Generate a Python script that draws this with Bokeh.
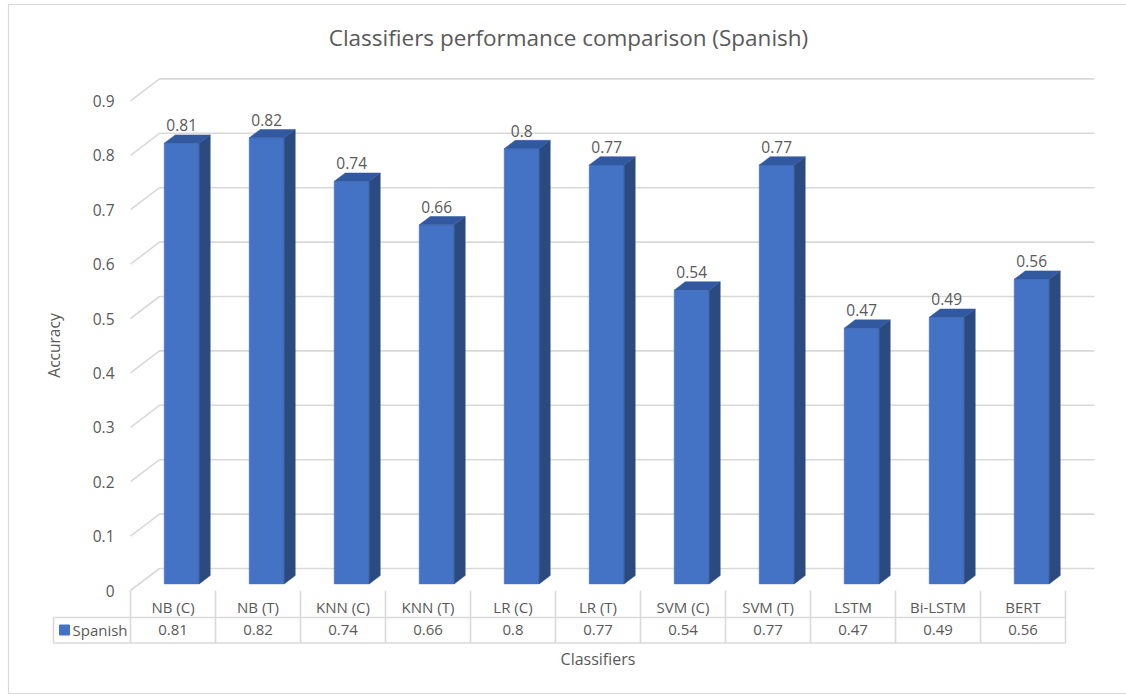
import numpy as np
from bokeh.plotting import figure
from bokeh.models import Range1d
from bokeh.core.properties import value
from bokeh.embed import file_html
from bokeh.resources import INLINE

# ---------------- data ----------------
categories = ["NB (C)", "NB (T)", "KNN (C)", "KNN (T)", "LR (C)", "LR (T)",
              "SVM (C)", "SVM (T)", "LSTM", "Bi-LSTM", "BERT"]
accuracy = [0.81, 0.82, 0.74, 0.66, 0.80, 0.77, 0.54, 0.77, 0.47, 0.49, 0.56]
y_ticks = [0.0, 0.1, 0.2, 0.3, 0.4, 0.5, 0.6, 0.7, 0.8, 0.9]
y_tick_labels = ["0", "0.1", "0.2", "0.3", "0.4", "0.5", "0.6", "0.7", "0.8", "0.9"]
series_name = "Spanish"
title_text = "Classifiers performance comparison (Spanish)"
x_title = "Classifiers"
y_title = "Accuracy"

# ---------------- style ----------------
FONT = "Open Sans"
TXT = "#595959"
GRID = "#D9D9D9"
FRONT = "#4472C4"
SIDE = "#2B4A80"
TOP = "#3259A0"

PX_X = 85.0   # pixels per category
PX_Y = 544.0  # pixels per accuracy unit


def dx(px):
    return px / PX_X


def dy(px):
    return px / PX_Y


WALL_DX, WALL_DY = dx(29), dy(22)
D_FRONT, D_BACK = 0.30, 0.68
a, b = D_FRONT * WALL_DX, D_FRONT * WALL_DY
sdx, sdy = (D_BACK - D_FRONT) * WALL_DX, (D_BACK - D_FRONT) * WALL_DY
bw = dx(35)

n = len(categories)
xs = np.arange(n, dtype=float)
vals = np.array(accuracy, dtype=float)

W, H = 1126, 695
OX, OY = 130, 590   # pixel of the chart origin (left front corner of the floor)
p = figure(width=W, height=H, output_backend="svg", toolbar_location=None,
           x_axis_location=None, y_axis_location=None,
           x_range=Range1d(-0.5 - dx(OX), -0.5 + dx(W - OX)),
           y_range=Range1d(-dy(H - OY), dy(OY)),
           min_border=0, outline_line_color=None, background_fill_color="white",
           border_fill_color="white")
p.grid.visible = False

# chart border (left, top, bottom; right edge is outside the picture)
bl, bt, bb = -0.5 - dx(OX - 8), dy(OY - 4), -dy(693 - OY)
p.multi_line(xs=[[13, bl, bl, 13]], ys=[[bt, bt, bb, bb]],
             line_color=GRID, line_width=1.2)

# back wall gridlines + left floor/wall diagonal
g_xs = [[-0.5, -0.5 + WALL_DX, n - 0.5 + WALL_DX] for t in y_ticks]
g_ys = [[t, t + WALL_DY, t + WALL_DY] for t in y_ticks]
p.multi_line(xs=g_xs, ys=g_ys, line_color=GRID, line_width=1.6)

# tick labels
p.text(x=[-0.5 - dx(16)] * len(y_ticks), y=y_ticks, text=y_tick_labels,
       text_font=value(FONT), text_font_size="15.5px", text_color=TXT,
       text_align="right", text_baseline="middle")

# bars (pseudo-3D)
left = xs + a - bw / 2
right = xs + a + bw / 2
bottom = np.full(n, b)
top = vals + b
p.quad(left=left, right=right, bottom=bottom, top=top,
       fill_color=FRONT, line_color=FRONT, line_width=0.5)
side_xs = [[r, r + sdx, r + sdx, r] for r in right]
side_ys = [[b, b + sdy, t + sdy, t] for t in top]
p.patches(side_xs, side_ys, fill_color=SIDE, line_color=SIDE, line_width=0.5)
top_xs = [[l, r, r + sdx, l + sdx] for l, r in zip(left, right)]
top_ys = [[t, t, t + sdy, t + sdy] for t in top]
p.patches(top_xs, top_ys, fill_color=TOP, line_color=TOP, line_width=0.5)

# data labels
lab = [f"{v:g}" for v in accuracy]
p.text(x=xs + a, y=top + sdy + dy(9.5), text=lab,
       text_font=value(FONT), text_font_size="15.5px", text_color=TXT,
       text_align="center", text_baseline="middle")

# data table
hdr_left = -0.5 - dx(77)
row1 = -dy(27)
row2 = -dy(52.5)
t_xs = [[k - 0.5, k - 0.5] for k in range(n + 1)]
t_ys = [[0, row2] for k in range(n + 1)]
t_xs += [[hdr_left, n - 0.5], [hdr_left, n - 0.5], [hdr_left, hdr_left]]
t_ys += [[row1, row1], [row2, row2], [row1, row2]]
p.multi_line(xs=t_xs, ys=t_ys, line_color=GRID, line_width=1.6)

p.text(x=xs, y=[-dy(16)] * n, text=categories,
       text_font=value(FONT), text_font_size="15px", text_color=TXT,
       text_align="center", text_baseline="middle")
p.text(x=xs, y=[-dy(39.5)] * n, text=lab,
       text_font=value(FONT), text_font_size="15px", text_color=TXT,
       text_align="center", text_baseline="middle")

# legend key in table header
p.scatter(x=[-0.5 - dx(66)], y=[-dy(39.5)], marker="square", size=10,
          fill_color=FRONT, line_color=FRONT)
p.text(x=[-0.5 - dx(58)], y=[-dy(39.5)], text=[series_name],
       text_font=value(FONT), text_font_size="15px", text_color=TXT,
       text_align="left", text_baseline="middle")

# axis titles and chart title
p.text(x=[-0.5 - dx(77)], y=[dy(245)], text=[y_title], angle=np.pi / 2,
       text_font=value(FONT), text_font_size="15.5px", text_color=TXT,
       text_align="center", text_baseline="middle")
p.text(x=[(n - 1) / 2], y=[-dy(68)], text=[x_title],
       text_font=value(FONT), text_font_size="16px", text_color=TXT,
       text_align="center", text_baseline="middle")
p.text(x=[-0.5 + dx(438)], y=[dy(553)], text=[title_text],
       text_font=value(FONT), text_font_size="22.5px", text_color=TXT,
       text_align="center", text_baseline="middle")

open("out.html", "w").write(file_html(p, INLINE))
